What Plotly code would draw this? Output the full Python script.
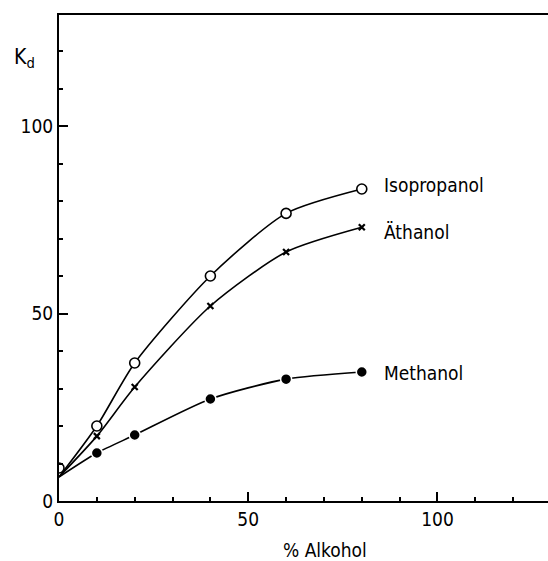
import plotly.graph_objects as go

# Data
alkohol = [10, 20, 40, 60, 80]
isopropanol = [20.0, 36.8, 60.0, 76.7, 83.2]
aethanol = [17.3, 30.4, 52.0, 66.4, 73.0]
methanol = [12.8, 17.6, 27.2, 32.5, 34.4]
start_x = [0]
start_y = [6.4]
iso_zero_x = [0]
iso_zero_y = [8.8]
series_names = ["Isopropanol", "Äthanol", "Methanol"]
label_y = [84.3, 71.7, 34.1]
label_x = 85.4
x_ticks = [0, 50, 100]
y_ticks = [0, 50, 100]

FONT = "Liberation Sans Narrow, DejaVu Sans Condensed, Liberation Sans, sans-serif"

fig = go.Figure()

series = [isopropanol, aethanol, methanol]
for ys in series:
    fig.add_trace(go.Scatter(
        x=start_x + alkohol, y=start_y + ys, mode="lines",
        line=dict(color="black", width=1.6, shape="spline", smoothing=0.7),
        showlegend=False, hoverinfo="skip"))

# Isopropanol: open circles
fig.add_trace(go.Scatter(
    x=iso_zero_x + alkohol, y=iso_zero_y + isopropanol, mode="markers",
    marker=dict(symbol="circle", size=10, color="white",
                line=dict(color="black", width=1.6)),
    cliponaxis=True, showlegend=False))
# Äthanol: crosses
fig.add_trace(go.Scatter(
    x=alkohol, y=aethanol, mode="markers",
    marker=dict(symbol="x-thin", size=6, color="black",
                line=dict(color="black", width=2.2)),
    showlegend=False))
# Methanol: filled circles
fig.add_trace(go.Scatter(
    x=alkohol, y=methanol, mode="markers",
    marker=dict(symbol="circle", size=11, color="black",
                line=dict(color="white", width=1.5)),
    showlegend=False))

for name, ly in zip(series_names, label_y):
    fig.add_annotation(x=label_x, y=ly, xref="x", yref="y", text=name,
                       showarrow=False, xanchor="left", yanchor="middle",
                       font=dict(family=FONT, size=19, color="black"))

fig.add_annotation(x=0.544, y=-0.100, xref="paper", yref="paper",
                   text="% Alkohol", showarrow=False,
                   xanchor="center", yanchor="middle",
                   font=dict(family=FONT, size=19, color="black"))
fig.add_annotation(x=-0.0705, y=0.9115, xref="paper", yref="paper",
                   text="K<sub>d</sub>", showarrow=False,
                   xanchor="center", yanchor="middle",
                   font=dict(family=FONT, size=21, color="black"))

axis_common = dict(
    showgrid=False, zeroline=False, showline=True, linecolor="black",
    linewidth=2, ticks="inside", ticklen=9, tickwidth=2, tickcolor="black",
    tickfont=dict(family=FONT, size=19, color="black"),
    minor=dict(dtick=10, ticks="inside", ticklen=4, tickwidth=1.5,
               tickcolor="black"),
)

fig.update_xaxes(range=[0, 129.2], tickvals=x_ticks, ticktext=[str(v) for v in x_ticks],
                 mirror=True, ticklabelstandoff=0, **axis_common)
fig.update_yaxes(range=[0, 129.6], tickvals=y_ticks, ticktext=[str(v) for v in y_ticks],
                 mirror=False, **axis_common)

fig.update_layout(
    width=548, height=561,
    margin=dict(l=58.5, r=0, t=15, b=60),
    plot_bgcolor="white", paper_bgcolor="white",
    showlegend=False,
)

fig.write_html("out.html", config={"displayModeBar": False},
               post_script="document.body.style.margin='0';document.body.style.padding='0';")
